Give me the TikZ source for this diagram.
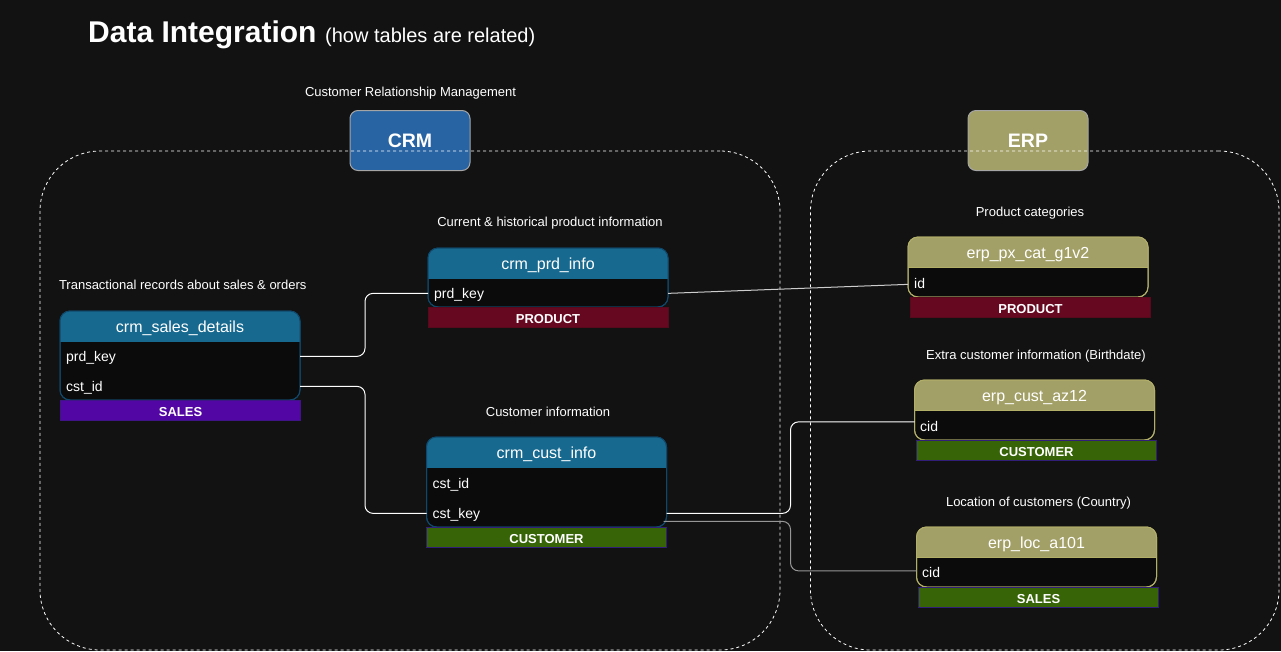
\documentclass[tikz,border=0pt]{standalone}
\usepackage{fontspec}
\setmainfont{Liberation Sans}
\usetikzlibrary{calc}
\definecolor{bgc}{RGB}{18,18,18}
\definecolor{bodyc}{RGB}{11,11,11}
\definecolor{crmhdr}{RGB}{23,105,143}
\definecolor{crmbrd}{RGB}{16,72,108}
\definecolor{erphdr}{RGB}{163,160,103}
\definecolor{erpbrd}{RGB}{178,175,105}
\definecolor{crmsys}{RGB}{40,100,163}
\definecolor{sysbrd}{RGB}{165,165,165}
\definecolor{salesc}{RGB}{82,6,163}
\definecolor{salesbrd}{RGB}{62,20,135}
\definecolor{prodc}{RGB}{102,9,32}
\definecolor{prodbrd}{RGB}{88,10,28}
\definecolor{custc}{RGB}{54,100,7}
\definecolor{custbrd}{RGB}{48,30,120}
\definecolor{linkgray}{RGB}{150,150,150}
\definecolor{linklight}{RGB}{205,205,205}
\tikzset{
  tblbox/.style={rectangle, rounded corners=10pt, minimum width=240pt, inner sep=0pt, outer sep=0pt, fill=bodyc, line width=1pt},
  hdrtxt/.style={text=white, inner sep=0pt, font=\fontsize{16}{19}\selectfont},
  rowtxt/.style={text=white, inner sep=0pt, anchor=base west, font=\fontsize{14}{17}\selectfont},
  tagbar/.style={rectangle, minimum width=240pt, minimum height=20pt, inner sep=0pt, line width=1pt, text=white, font=\bfseries\fontsize{13}{15}\selectfont},
  tagtxt/.style={text=white, inner sep=0pt, font=\bfseries\fontsize{13}{15}\selectfont},
  note/.style={text=white, inner sep=0pt, anchor=base, font=\fontsize{13}{15}\selectfont},
  sysbox/.style={rectangle, rounded corners=8pt, minimum width=120pt, minimum height=60pt, draw=sysbrd, line width=1pt, text=white, font=\bfseries\fontsize{19.5}{22}\selectfont},
  link/.style={draw=white, line width=1pt, rounded corners=8pt},
  grouparea/.style={rectangle, draw=white, dash pattern=on 3pt off 3pt, line width=0.8pt, rounded corners=60pt, inner sep=0pt},
}
% #1 name, #2 left, #3 top, #4 title, #5 header colour, #6 border colour, #7 bottom, #8 separator colour
\newcommand\dbtab[8]{%
  \node[tblbox, draw=#6, minimum height={(#7-#3)*1pt}] (#1) at ({#2+120},{(#3+#7)/2}) {};
  \begin{scope}
    \clip[rounded corners=10pt] (#1.south west) rectangle (#1.north east);
    \fill[#5] (#1.north west) rectangle ($(#1.north east)+(0,30)$);
  \end{scope}
  \draw[#8, line width=1pt] ($(#1.north west)+(0,30)$) -- ($(#1.north east)+(0,30)$);
  \draw[#6, line width=1pt, rounded corners=10pt] (#1.south west) rectangle (#1.north east);
  \node[hdrtxt, anchor=base] (#1-title) at ($(#1.north)+(0,21)$) {#4};
}
% #1 name, #2 centre x, #3 centre y, #4 text, #5 fill, #6 border
\newcommand\tagbox[6]{%
  \node[tagbar, fill=#5, draw=#6] (#1) at (#2,#3) {};
  \node[tagtxt, anchor=base] (#1-text) at ($(#1.center)+(0,6)$) {#4};
}
\begin{document}
\begin{tikzpicture}[x=1pt,y=-1pt]
\fill[bgc] (0,0) rectangle (1281,651);
\useasboundingbox (0,0) rectangle (1281,651);

% title
\node[anchor=base west, inner sep=0pt, text=white, font=\bfseries\fontsize{30}{36}\selectfont] (title) at (88,42) {Data Integration};
\node[anchor=base west, inner sep=0pt, text=white, font=\fontsize{20}{24}\selectfont] (subtitle) at (325,42) {(how tables are related)};

% systems
\node[note] (crmnote) at (410.5,96) {Customer Relationship Management};
\node[sysbox, fill=crmsys] (crmsys) at (410,140.5) {CRM};
\node[sysbox, fill=erphdr] (erpsys) at (1028,140.5) {ERP};

% group areas
\node[grouparea, minimum width=740pt, minimum height=499pt] (crmarea) at (410,400.5) {};
\node[grouparea, minimum width=468.5pt, minimum height=499pt] (erparea) at (1044.75,400.5) {};

% CRM tables
\node[note] (salesnote) at (182.7,289) {Transactional records about sales \& orders};
\dbtab{sales}{60}{311}{crm\_sales\_details}{crmhdr}{crmbrd}{400}{crmhdr}
\node[rowtxt] (sales-prd) at (66,361) {prd\_key};
\node[rowtxt] (sales-cst) at (66,391) {cst\_id};
\tagbox{sales-tag}{180.5}{410.5}{SALES}{salesc}{salesbrd}

\node[note] (prdnote) at (550,226) {Current \& historical product information};
\dbtab{prd}{428}{248}{crm\_prd\_info}{crmhdr}{crmbrd}{307}{crmhdr}
\node[rowtxt] (prd-key) at (434,298) {prd\_key};
\tagbox{prd-tag}{548}{317.5}{PRODUCT}{prodc}{prodbrd}

\node[note] (custnote) at (548,416) {Customer information};
\dbtab{cust}{426.5}{437}{crm\_cust\_info}{crmhdr}{crmbrd}{527}{crmhdr}
\node[rowtxt] (cust-id) at (432.5,488) {cst\_id};
\node[rowtxt] (cust-key) at (432.5,518) {cst\_key};
\tagbox{cust-tag}{546.5}{537}{CUSTOMER}{custc}{custbrd}

% ERP tables
\node[note] (pxnote) at (1030,216) {Product categories};
\dbtab{px}{908}{237}{erp\_px\_cat\_g1v2}{erphdr}{erpbrd}{297}{erpbrd}
\node[rowtxt] (px-id) at (914,288) {id};
\tagbox{px-tag}{1030.5}{307}{PRODUCT}{prodc}{prodbrd}

\node[note] (aznote) at (1036,359) {Extra customer information (Birthdate)};
\dbtab{az}{914.5}{380}{erp\_cust\_az12}{erphdr}{erpbrd}{440}{erpbrd}
\node[rowtxt] (az-cid) at (920,431) {cid};
\tagbox{az-tag}{1036.5}{450.5}{CUSTOMER}{custc}{custbrd}

\node[note] (locnote) at (1038.5,506) {Location of customers (Country)};
\dbtab{loc}{916.5}{527}{erp\_loc\_a101}{erphdr}{erpbrd}{587}{erpbrd}
\node[rowtxt] (loc-cid) at (922,577) {cid};
\tagbox{loc-tag}{1038.5}{597}{SALES}{custc}{custbrd}

% connectors
\coordinate (v1) at (365,0);
\coordinate (v2) at (790.5,0);
\draw[link] ($(sales-prd.mid -| sales.east)+(0,-2)$) -- ($(sales-prd.mid -| v1)+(0,-2)$)
  -- ($(prd-key.mid -| v1)+(0,-2)$) -- ($(prd-key.mid -| prd.west)+(0,-2)$);
\draw[link] ($(sales-cst.mid -| sales.east)+(0,-2)$) -- ($(sales-cst.mid -| v1)+(0,-2)$)
  -- ($(cust-key.mid -| v1)+(0,-2)$) -- ($(cust-key.mid -| cust.west)+(0,-2)$);
\draw[link, draw=linklight] ($(prd-key.mid -| prd.east)+(0,-2)$) -- ($(px-id.mid -| px.west)+(0,-1)$);
\draw[link] ($(cust-key.mid -| cust.east)+(0,-2)$) -- ($(cust-key.mid -| v2)+(0,-2)$)
  -- ($(az-cid.mid -| v2)+(0,-6.5)$) -- ($(az-cid.mid -| az.west)+(0,-6.5)$);
\draw[link, draw=linkgray] ($(cust-key.mid -| cust.east)+(-3,6)$) -- ($(cust-key.mid -| v2)+(0,6)$)
  -- ($(loc-cid.mid -| v2)+(0,-3.5)$) -- ($(loc-cid.mid -| loc.west)+(0,-3.5)$);
\end{tikzpicture}
\end{document}
